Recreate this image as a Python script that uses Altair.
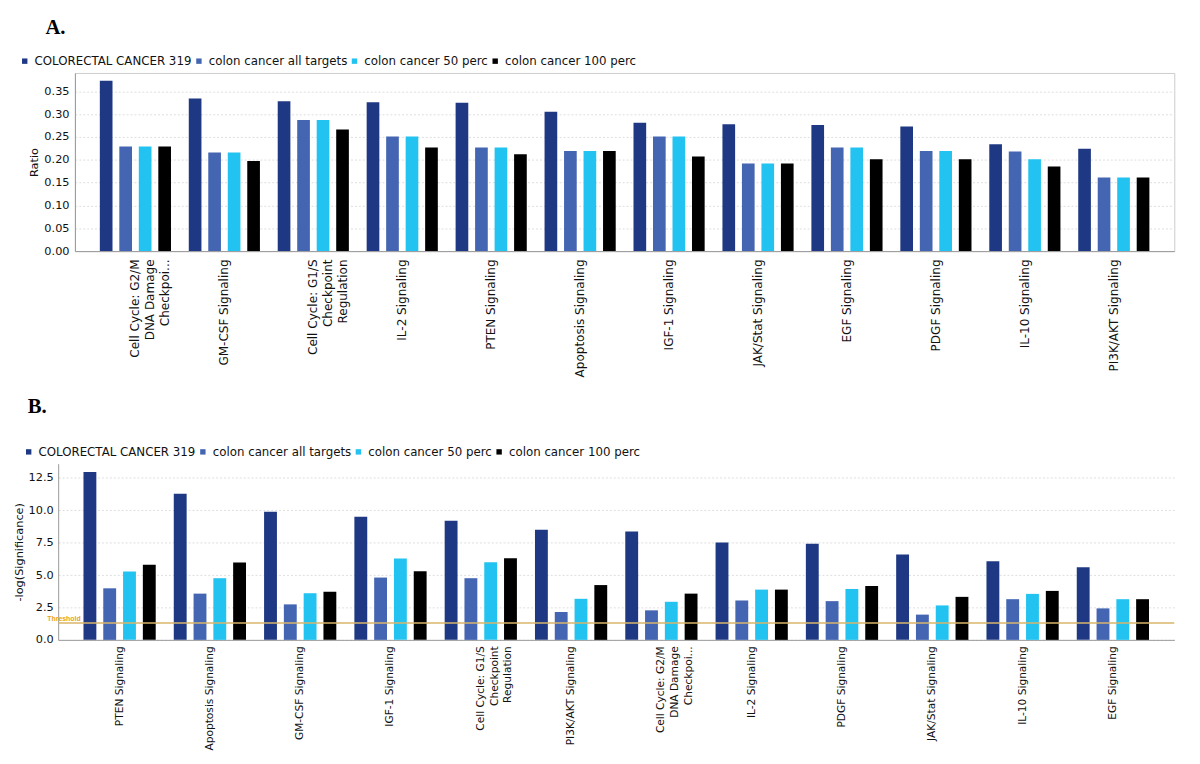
import altair as alt
import pandas as pd

series = ["COLORECTAL CANCER 319", "colon cancer all targets", "colon cancer 50 perc", "colon cancer 100 perc"]
colors = ["#1f3883", "#4465b2", "#22c3f0", "#000000"]

cats_a = ["Cell Cycle: G2/M|DNA Damage|Checkpoi...", "GM-CSF Signaling", "Cell Cycle: G1/S|Checkpoint|Regulation",
          "IL-2 Signaling", "PTEN Signaling", "Apoptosis Signaling", "IGF-1 Signaling", "JAK/Stat Signaling",
          "EGF Signaling", "PDGF Signaling", "IL-10 Signaling", "PI3K/AKT Signaling"]
a_crc = [0.373, 0.334, 0.328, 0.326, 0.325, 0.305, 0.281, 0.278, 0.276, 0.273, 0.234, 0.224]
a_all = [0.229, 0.216, 0.287, 0.251, 0.227, 0.219, 0.251, 0.192, 0.227, 0.219, 0.218, 0.161]
a_50 = [0.229, 0.216, 0.287, 0.251, 0.227, 0.219, 0.251, 0.192, 0.227, 0.219, 0.201, 0.161]
a_100 = [0.229, 0.197, 0.266, 0.227, 0.212, 0.219, 0.207, 0.192, 0.201, 0.201, 0.185, 0.161]
a_ticks = [0.0, 0.05, 0.10, 0.15, 0.20, 0.25, 0.30, 0.35]

cats_b = ["PTEN Signaling", "Apoptosis Signaling", "GM-CSF Signaling", "IGF-1 Signaling",
          "Cell Cycle: G1/S|Checkpoint|Regulation", "PI3K/AKT Signaling", "Cell Cycle: G2/M|DNA Damage|Checkpoi...",
          "IL-2 Signaling", "PDGF Signaling", "JAK/Stat Signaling", "IL-10 Signaling", "EGF Signaling"]
b_crc = [12.95, 11.28, 9.9, 9.5, 9.19, 8.5, 8.36, 7.52, 7.42, 6.59, 6.06, 5.6]
b_all = [3.98, 3.57, 2.74, 4.81, 4.76, 2.15, 2.28, 3.04, 2.99, 1.95, 3.14, 2.43]
b_50 = [5.27, 4.76, 3.6, 6.28, 6.0, 3.17, 2.94, 3.88, 3.93, 2.66, 3.55, 3.14]
b_100 = [5.8, 5.98, 3.72, 5.3, 6.3, 4.23, 3.57, 3.88, 4.16, 3.32, 3.78, 3.14]
b_ticks = [0.0, 2.5, 5.0, 7.5, 10.0, 12.5]

threshold = [1.3]
threshold_label = ["Threshold"]


def long_df(cats, cols):
    rows = []
    for s, vals in zip(series, cols):
        for c, v in zip(cats, vals):
            rows.append({"cat": c, "series": s, "value": v})
    return pd.DataFrame(rows)


def y_axis(title, ticks, fmt, offset, lpad):
    return alt.Axis(values=ticks, format=fmt, title=title, ticks=False, labelPadding=lpad,
                    titlePadding=4, labelFontSize=11.5, titleFontSize=11.5, titleFontWeight="normal",
                    labelFont="DejaVu Sans", titleFont="DejaVu Sans", labelColor="#111",
                    titleColor="#111", domainColor="#999", gridColor="#dddddd",
                    gridDash=[2, 2], labelOverlap=False, offset=offset)


def bars(cats, cols, ytitle, ydomain, yticks, fmt, width, height, legend_x, xfont, xpad, xline,
         xrange, yoffset, ylpad):
    df = long_df(cats, cols)
    xscale = alt.Scale(paddingInner=0.2, paddingOuter=0.28)
    if xrange is not None:
        xscale = alt.Scale(paddingInner=0.2, paddingOuter=0.28, range=xrange)
    return alt.Chart(df).mark_bar().encode(
        x=alt.X("cat:N", sort=cats, scale=xscale,
                axis=alt.Axis(title=None, labelAngle=-90, labelExpr="split(datum.label, '|')",
                              ticks=False, labelPadding=xpad, grid=False, labelFontSize=xfont,
                              labelLineHeight=xline, labelFont="DejaVu Sans", labelColor="#111",
                              domainColor="#999")),
        xOffset=alt.XOffset("series:N", sort=series, scale=alt.Scale(paddingInner=0.35, paddingOuter=0)),
        y=alt.Y("value:Q", scale=alt.Scale(domain=ydomain, nice=False, zero=True),
                axis=y_axis(ytitle, yticks, fmt, yoffset, ylpad)),
        color=alt.Color("series:N", sort=series,
                        scale=alt.Scale(domain=series, range=colors),
                        legend=alt.Legend(title=None, orient="none", legendX=legend_x, legendY=-18,
                                          direction="horizontal", symbolType="square", symbolSize=30,
                                          symbolStrokeWidth=0, labelFontSize=12, labelFont="DejaVu Sans",
                                          labelColor="#111", columnPadding=1, labelOffset=4)),
    ).properties(width=width, height=height)


panel_a = bars(cats_a, [a_crc, a_all, a_50, a_100], "Ratio", [0, 0.39], a_ticks, ".2f",
               1117, 181, -57, 12.2, 8, 15, None, 0, 6).properties(
    title=alt.TitleParams(text="A.", anchor="start", frame="group", dx=-30, font="Liberation Serif",
                          fontSize=21, fontWeight="bold", color="#000", offset=18))

b_axis = y_axis("-log(Significance)", b_ticks, ".1f", 17, 5)
bars_b = bars(cats_b, [b_crc, b_all, b_50, b_100], "-log(Significance)", [0, 13.6], b_ticks, ".1f",
              1117, 179, -53, 10.8, 6, 14, [-17, 1117], 17, 5)

thr_df = pd.DataFrame({"y": threshold, "label": threshold_label})
rule = alt.Chart(thr_df).mark_rule(color="#d9b46a", strokeWidth=1.5).encode(
    x=alt.value(-17), x2=alt.value(1117), y=alt.Y("y:Q", axis=b_axis))
thr_text = alt.Chart(thr_df).mark_text(align="left", baseline="bottom", fontSize=7, fontWeight="bold",
                                       color="#e8a317", dy=-1).encode(
    x=alt.value(-28), y=alt.Y("y:Q", axis=b_axis), text="label:N")

panel_b = alt.layer(bars_b, rule, thr_text).properties(
    view=alt.ViewBackground(stroke="transparent"),
    title=alt.TitleParams(text="B.", anchor="start", frame="group", dx=-48, font="Liberation Serif",
                          fontSize=21, fontWeight="bold", color="#000", offset=30))

chart = alt.vconcat(panel_a, panel_b, spacing=17).resolve_scale(
    color="independent", x="independent", y="independent", xOffset="independent"
).resolve_legend(color="independent").properties(
    padding={"left": 4, "top": 2, "right": 0, "bottom": 0}
).configure_view(stroke="#cccccc")

chart.save("out.html", embed_options={"renderer": "svg", "actions": False})
